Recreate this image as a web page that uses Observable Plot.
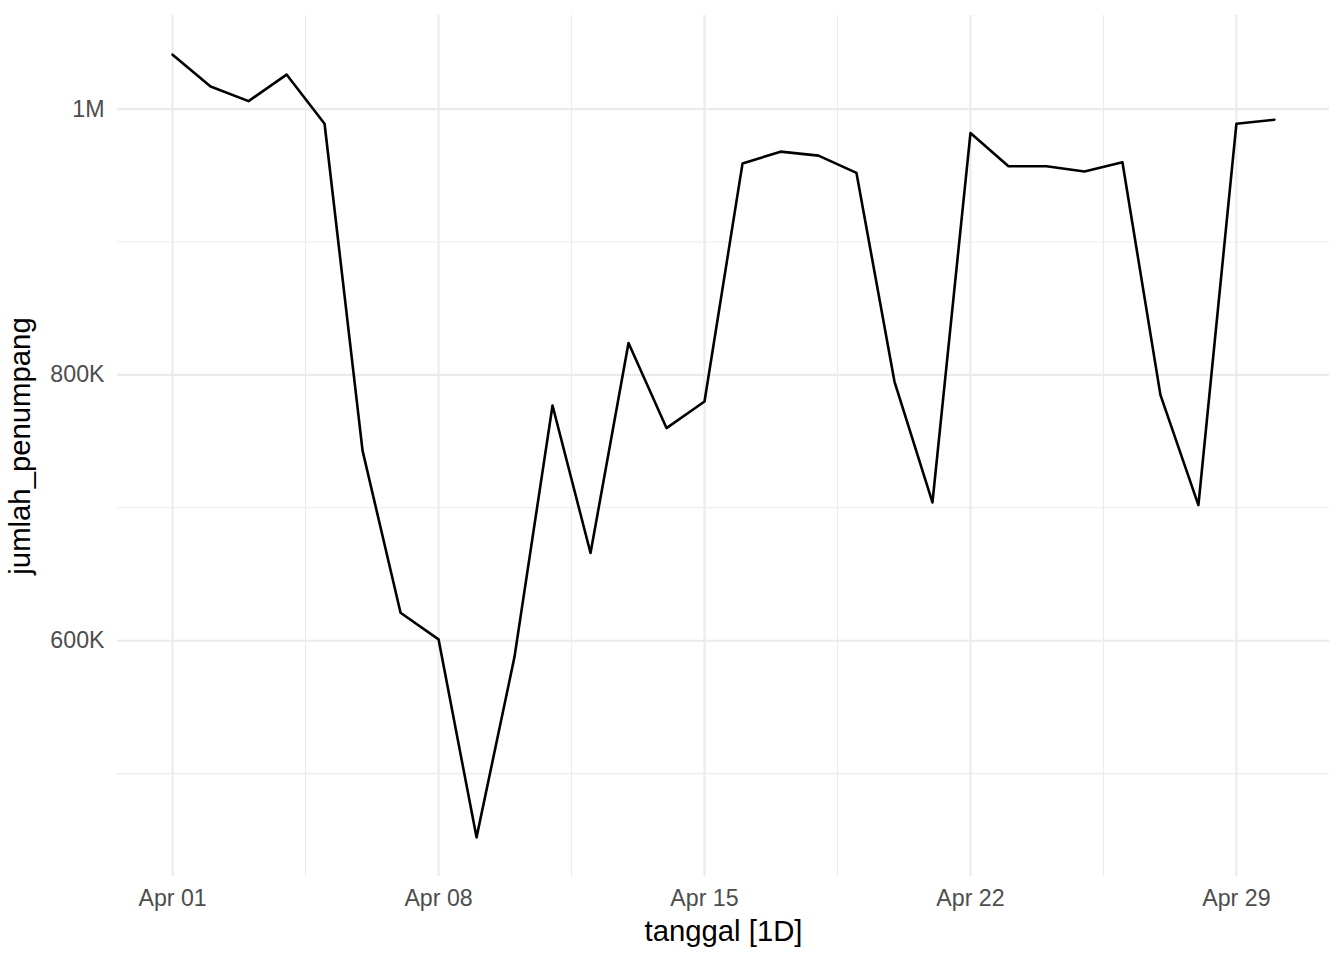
<!DOCTYPE html>
<html>
<head>
<meta charset="utf-8">
<script src="https://cdn.jsdelivr.net/npm/d3@7"></script>
<script src="https://cdn.jsdelivr.net/npm/@observablehq/plot@0.6"></script>
<style>
  body { margin: 0; background: #fff; }
  #vis { width: 1344px; height: 960px; }
</style>
</head>
<body>
<div id="vis"></div>
<script>
// jumlah penumpang harian, April
const days = d3.range(1, 31)
const penumpang = [
  1041000, 1017000, 1006000, 1026000, 989000, 743000, 621000, 601000, 452000, 588000,
  777000, 666000, 824000, 760000, 780000, 959000, 968000, 965000, 952000, 795000,
  704000, 982000, 957000, 957000, 953000, 960000, 785000, 702000, 989000, 992000
]
const majorTicks = [1, 8, 15, 22, 29]
const minorTicks = [4.5, 11.5, 18.5, 25.5]
const yMajor = [600000, 800000, 1000000]
const yMinor = [500000, 700000, 900000]

const tgl = d => new Date(2024, 3, 1).getTime() + (d - 1) * 864e5
const data = days.map((d, i) => ({tanggal: new Date(tgl(d)), jumlah_penumpang: penumpang[i]}))

// ggplot-style 5% expansion
const xExt = [tgl(1), tgl(30)]
const xPad = (xExt[1] - xExt[0]) * 0.05
const yExt = d3.extent(penumpang)
const yPad = (yExt[1] - yExt[0]) * 0.05

const fmtY = v => v >= 1e6 ? (v / 1e6) + "M" : (v / 1e3) + "K"

let chart = Plot.plot({
  width: 1344,
  height: 960,
  marginLeft: 117,
  marginRight: 15,
  marginTop: 15,
  marginBottom: 84,
  x: {type: "time", domain: [new Date(xExt[0] - xPad), new Date(xExt[1] + xPad)]},
  y: {domain: [yExt[0] - yPad, yExt[1] + yPad]},
  marks: [
    Plot.gridX(minorTicks.map(d => new Date(tgl(d))), {stroke: "#ebebeb", strokeOpacity: 1, strokeWidth: 1.1}),
    Plot.gridY(yMinor, {stroke: "#ebebeb", strokeOpacity: 1, strokeWidth: 1.1}),
    Plot.gridX(majorTicks.map(d => new Date(tgl(d))), {stroke: "#ebebeb", strokeOpacity: 1, strokeWidth: 2.1}),
    Plot.gridY(yMajor, {stroke: "#ebebeb", strokeOpacity: 1, strokeWidth: 2.1}),
    Plot.axisX(majorTicks.map(d => new Date(tgl(d))), {
      tickSize: 0, tickPadding: 13, fontSize: 23.2, fill: "#4d4d4d",
      tickFormat: d3.timeFormat("%b %d"), label: null
    }),
    Plot.axisX([], {
      fontSize: 29.3, fill: "black",
      label: "tanggal [1D]", labelAnchor: "center", labelArrow: "none", labelOffset: 64
    }),
    Plot.axisY(yMajor, {
      tickSize: 0, tickPadding: 13, fontSize: 23.2, fill: "#4d4d4d",
      tickFormat: fmtY, label: null
    }),
    Plot.axisY([], {
      fontSize: 29.3, fill: "black",
      label: "jumlah_penumpang", labelAnchor: "center", labelArrow: "none", labelOffset: 108
    }),
    Plot.line(data, {x: "tanggal", y: "jumlah_penumpang", stroke: "black", strokeWidth: 2.6})
  ],
  style: {
    fontFamily: "Liberation Sans, Arial, sans-serif",
    color: "black",
    background: "white"
  }
})
d3.select('#vis').append(() => chart)
</script>
</body>
</html>
